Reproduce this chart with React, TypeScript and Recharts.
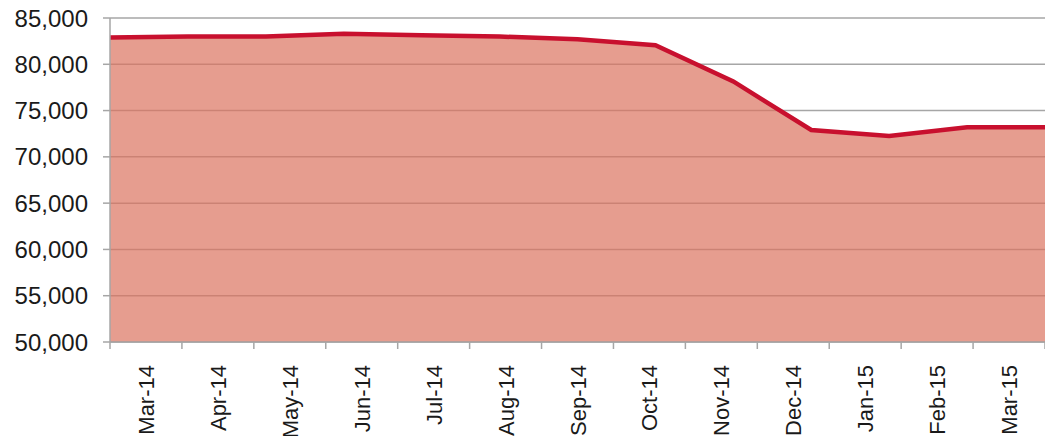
import { ComposedChart, Area, XAxis, YAxis, CartesianGrid } from "recharts";

const months = [
  "Mar-14", "Apr-14", "May-14", "Jun-14", "Jul-14", "Aug-14", "Sep-14",
  "Oct-14", "Nov-14", "Dec-14", "Jan-15", "Feb-15", "Mar-15",
];
const values = [
  82900, 83000, 83000, 83300, 83150, 83000, 82700,
  82050, 78150, 72900, 72250, 73200, 73200,
];
const yTicks = [50000, 55000, 60000, 65000, 70000, 75000, 80000, 85000];

const data = months.map((m, i) => ({ idx: i, m, v: values[i] }));
// label axis: integer ticks are band edges (tick marks), halves are band centres (labels)
const bandTicks = [...months.flatMap((_, i) => [i, i + 0.5]), months.length];

const FONT = "'Liberation Sans', Arial, sans-serif";
const GRID = "#A6A6A6";

function MonthTick({ x, y, payload }: { x: number; y: number; payload: { value: number } }) {
  const v = payload.value;
  if (Number.isInteger(v)) {
    return <line x1={x} x2={x} y1={y} y2={y + 7} stroke={GRID} strokeWidth={1.5} />;
  }
  return (
    <text
      transform={`translate(${x + 8},${y + 23}) rotate(-90)`}
      textAnchor="end"
      fontSize={22}
      fontFamily={FONT}
      fill="#1a1a1a"
    >
      {months[Math.floor(v)]}
    </text>
  );
}

export default function App() {
  return (
    <div style={{ position: "absolute", left: 0, top: 0, background: "#fff" }}>
      <ComposedChart width={1045} height={436} data={data} margin={{ top: 18, right: 0, left: 0, bottom: 0 }}>
        <CartesianGrid horizontal vertical={false} stroke={GRID} strokeWidth={1.5} xAxisId="lbl" />
        <XAxis xAxisId="pts" type="number" dataKey="idx" domain={[0, months.length - 1]} hide />
        <XAxis
          xAxisId="lbl"
          type="number"
          dataKey="idx"
          domain={[0, months.length]}
          allowDataOverflow
          ticks={bandTicks}
          interval={0}
          tick={MonthTick}
          tickLine={false}
          tickSize={0}
          tickMargin={0}
          axisLine={{ stroke: GRID, strokeWidth: 1.5 }}
          height={94}
        />
        <YAxis
          domain={[50000, 85000]}
          ticks={yTicks}
          interval={0}
          width={110}
          tickFormatter={(v) => v.toLocaleString("en-US")}
          tick={{ fontSize: 24, fill: "#1a1a1a", fontFamily: FONT }}
          tickLine={{ stroke: GRID, strokeWidth: 1.5 }}
          tickSize={7}
          tickMargin={15}
          axisLine={{ stroke: GRID, strokeWidth: 1.5 }}
        />
        <Area
          xAxisId="pts"
          type="linear"
          dataKey="v"
          baseValue={50000}
          fill="#DB7460"
          fillOpacity={0.7}
          stroke="#C8102E"
          strokeWidth={4.5}
          dot={false}
          activeDot={false}
          isAnimationActive={false}
        />
      </ComposedChart>
    </div>
  );
}
